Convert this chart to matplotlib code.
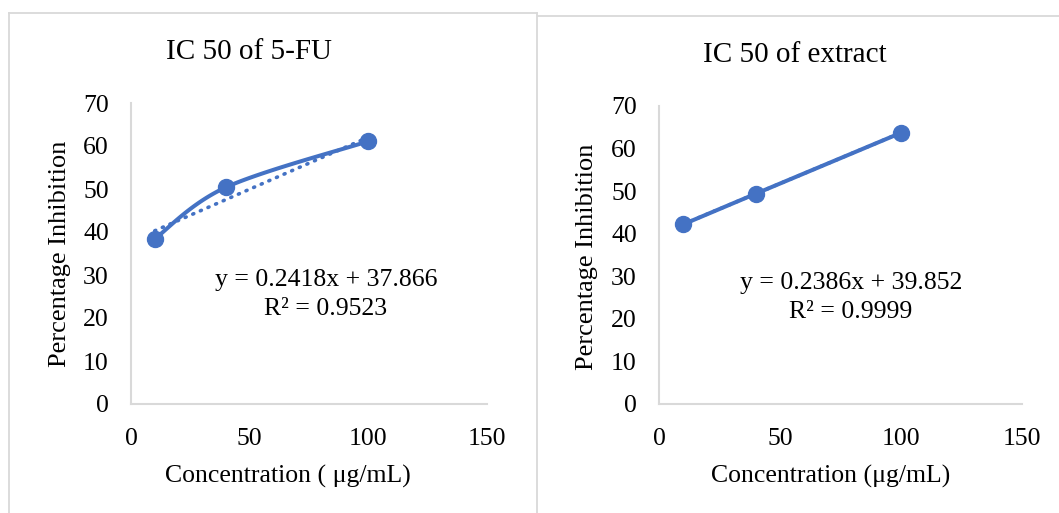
import matplotlib
matplotlib.use("Agg")
import matplotlib.pyplot as plt
from matplotlib.lines import Line2D
import numpy as np

plt.rcParams["font.family"] = ["Liberation Serif", "DejaVu Serif"]

# concentrations (ug/mL) and % inhibition
conc = [10, 40, 100]
inhib_5fu = [38.4, 50.4, 61.1]
inhib_extract = [42.2, 49.4, 63.7]

fit_5fu = (0.2418, 37.866, 0.9523)
fit_extract = (0.2386, 39.852, 0.9999)

titles = ["IC 50 of 5-FU", "IC 50 of extract"]
xlabels = ["Concentration ( \u03bcg/mL)", "Concentration (\u03bcg/mL)"]
ylabel = "Percentage Inhibition"

BLUE = "#4472C4"
GREY = "#d9d9d9"
W, H = 1059, 513


def smooth_curve(x, y, xspan, yspan, n=40):
    # Excel-style smoothed line: bezier segments with catmull-rom handles
    px = np.asarray(x, float) / xspan
    py = np.asarray(y, float) / yspan
    pts = np.column_stack([px, py])
    pts = np.vstack([pts[0], pts, pts[-1]])
    out = []
    t = np.linspace(0, 1, n)[:, None]
    for i in range(1, len(pts) - 2):
        p0, p1, p2, p3 = pts[i - 1], pts[i], pts[i + 1], pts[i + 2]
        c1 = p1 + (p2 - p0) / 6
        c2 = p2 - (p3 - p1) / 6
        seg = ((1 - t) ** 3) * p1 + 3 * ((1 - t) ** 2) * t * c1 + 3 * (1 - t) * t ** 2 * c2 + t ** 3 * p2
        out.append(seg)
    out = np.vstack(out)
    return out[:, 0] * xspan, out[:, 1] * yspan


fig = plt.figure(figsize=(W / 100, H / 100), dpi=100)
fig.patch.set_facecolor("white")


def fline(x0, y0, x1, y1):
    fig.add_artist(Line2D([x0 / W, x1 / W], [1 - y0 / H, 1 - y1 / H],
                          transform=fig.transFigure, color=GREY, lw=1.3))

# chart frames
fline(9, 13, 537, 13)
fline(9, 13, 9, 513)
fline(537, 13, 537, 513)
fline(538, 16, 1059, 16)

axes_px = [(131, 103, 487, 404), (659, 106, 1022, 404)]
title_pos = [(249, 52), (795, 55)]
ylab_pos = [(60, 254), (587, 257)]
xlab_pos = [(288, 476), (831, 476)]
eq_pos = [(326, 280), (851, 283)]

datasets = [(inhib_5fu, fit_5fu, True), (inhib_extract, fit_extract, False)]

for i, (ys, fit, smooth) in enumerate(datasets):
    l, t, r, b = axes_px[i]
    ax = fig.add_axes([l / W, 1 - b / H, (r - l) / W, (b - t) / H])
    ax.set_xlim(0, 150)
    ax.set_ylim(0, 70)
    ax.set_xticks([0, 50, 100, 150])
    ax.set_yticks(range(0, 71, 10))
    ax.tick_params(length=0, labelsize=18.5, colors="black")
    ax.tick_params(axis="y", pad=16)
    ax.tick_params(axis="x", pad=17)
    for s in ["top", "right"]:
        ax.spines[s].set_visible(False)
    for s in ["left", "bottom"]:
        ax.spines[s].set_color(GREY)
        ax.spines[s].set_linewidth(1.5)
    ax.patch.set_alpha(0)

    slope, icpt, r2 = fit
    tx = np.array([conc[0], conc[-1]], float)
    ax.plot(tx, slope * tx + icpt, color=BLUE, lw=2.6, linestyle=(0, (0.3, 2.0)),
            dash_capstyle="round", zorder=2)
    if smooth:
        sx, sy = smooth_curve(conc, ys, 150 / (r - l), 70 / (b - t))
        ax.plot(sx, sy, color=BLUE, lw=2.9, zorder=3, solid_capstyle="round")
    else:
        ax.plot(conc, ys, color=BLUE, lw=2.9, zorder=3, solid_capstyle="round")
    ax.plot(conc, ys, "o", color=BLUE, ms=11.5, zorder=4, clip_on=False)

    fig.text(title_pos[i][0] / W, 1 - title_pos[i][1] / H, titles[i],
             ha="center", va="center", fontsize=21)
    fig.text(ylab_pos[i][0] / W, 1 - ylab_pos[i][1] / H, ylabel,
             rotation=90, ha="center", va="center", fontsize=19)
    fig.text(xlab_pos[i][0] / W, 1 - xlab_pos[i][1] / H, xlabels[i],
             ha="center", va="center", fontsize=18.5)
    ex, ey = eq_pos[i]
    fig.text(ex / W, 1 - ey / H, "y = %.4fx + %.3f" % (slope, icpt),
             ha="center", va="center", fontsize=18.5)
    fig.text(ex / W, 1 - (ey + 29) / H, "R\u00b2 = %.4f" % r2,
             ha="center", va="center", fontsize=18.5)

fig.savefig("out.png", dpi=100, facecolor="white")
